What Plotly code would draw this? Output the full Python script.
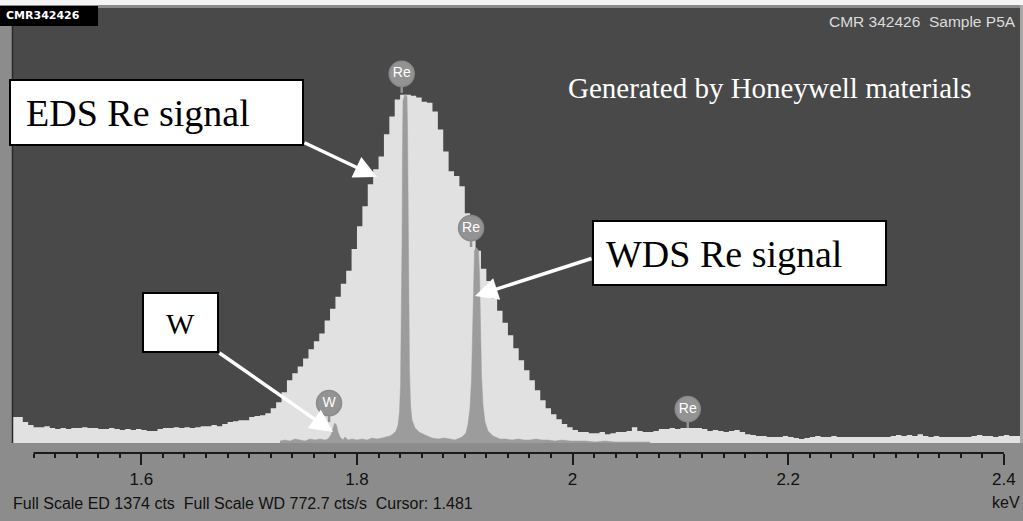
import plotly.graph_objects as go

# ---------------- data ----------------
# EDS spectrum: counts per 5 eV channel, first channel starts at 1.480 keV
eds_start_kev = 1.480
eds_channel_kev = 0.005
eds_counts = [
    82, 82, 66, 57, 50, 50, 53, 47, 44, 47,
    44, 47, 47, 50, 47, 47, 44, 44, 47, 44,
    41, 44, 41, 44, 41, 38, 38, 44, 47, 47,
    50, 47, 50, 47, 50, 53, 53, 57, 53, 60,
    66, 69, 72, 72, 82, 85, 88, 94, 110, 129,
    160, 198, 220, 242, 267, 296, 321, 346, 387, 424,
    462, 503, 544, 613, 685, 748, 817, 865, 905, 975,
    1031, 1085, 1100, 1100, 1097, 1091, 1078, 1075, 1047, 990,
    921, 858, 843, 811, 726, 644, 607, 550, 512, 456,
    418, 380, 340, 299, 261, 230, 198, 167, 135, 110,
    91, 75, 60, 50, 41, 35, 35, 31, 31, 35,
    28, 31, 35, 35, 38, 50, 38, 35, 35, 38,
    44, 44, 47, 44, 47, 47, 47, 47, 44, 38,
    41, 38, 35, 38, 41, 35, 28, 25, 22, 22,
    19, 19, 19, 22, 19, 16, 13, 16, 19, 22,
    19, 19, 22, 19, 19, 19, 19, 19, 19, 19,
    19, 19, 19, 22, 25, 22, 25, 22, 28, 22,
    19, 22, 19, 19, 19, 19, 19, 19, 22, 25,
    22, 22, 19, 22, 25, 22, 22, 22,
]

# WDS scan (keV, counts/s)
wds_energy = [
    1.7286, 1.7332, 1.7379, 1.7425, 1.7471, 1.7518, 1.7564, 1.7611, 1.7657, 1.7703,
    1.7731, 1.7759, 1.7778, 1.7792, 1.7810, 1.7824, 1.7843, 1.7870, 1.7889, 1.7917,
    1.7954, 1.8000, 1.8047, 1.8093, 1.8139, 1.8186, 1.8232, 1.8269, 1.8306, 1.8334,
    1.8362, 1.8381, 1.8394, 1.8404, 1.8413, 1.8418, 1.8422, 1.8427, 1.8446, 1.8464,
    1.8469, 1.8473, 1.8478, 1.8487, 1.8497, 1.8510, 1.8538, 1.8575, 1.8631, 1.8696,
    1.8752, 1.8807, 1.8863, 1.8909, 1.8974, 1.9011, 1.9030, 1.9048, 1.9062, 1.9072,
    1.9081, 1.9090, 1.9109, 1.9127, 1.9137, 1.9146, 1.9155, 1.9169, 1.9188, 1.9215,
    1.9262, 1.9327, 1.9382, 1.9438, 1.9494, 1.9549, 1.9605, 1.9661, 1.9716, 1.9772,
    1.9837, 1.9902, 1.9976, 2.0050, 2.0124, 2.0208, 2.0301, 2.0393, 2.0533, 2.0718,
]
wds_cps = [
    3.5, 5.3, 3.5, 7.1, 5.3, 3.5, 7.1, 5.3, 7.1, 5.3,
    7.1, 14.2, 26.6, 35.4, 31.9, 19.5, 10.6, 5.3, 10.6, 5.3,
    7.1, 5.3, 7.1, 5.3, 8.9, 7.1, 8.9, 10.6, 12.4, 16.0,
    21.3, 31.9, 55.0, 103, 218, 360, 519, 608, 620, 615,
    555, 431, 271, 129, 67, 41, 27, 19.5, 14.2, 8.9,
    7.1, 8.9, 7.1, 5.3, 10.6, 17.7, 33.7, 62, 111.6, 200,
    298, 342, 347, 342, 298, 209, 120.5, 67, 37, 21.3,
    12.4, 7.1, 7.1, 5.3, 7.1, 5.3, 5.3, 7.1, 5.3, 5.3,
    3.5, 5.3, 3.5, 3.5, 3.5, 1.8, 3.5, 1.8, 1.8, 1.8,
]

# peak identification labels (energy keV, label height / stem base in EDS counts)
label_text = ["Re", "Re", "W", "Re"]
label_energy = [1.8415, 1.9058, 1.7741, 2.1068]
label_height = [1166, 679, 126, 107]
label_base = [1106, 619, 66, 47]

eds_full_scale = 1374
wds_full_scale = 772.7

major_ticks = [1.6, 1.8, 2.0, 2.2, 2.4]
major_text = ["1.6", "1.8", "2", "2.2", "2.4"]
minor_ticks = [round(1.50 + 0.02 * k, 2) for k in range(46)]
minor_ticks = [t for t in minor_ticks if t not in major_ticks]
axis_span = [1.5, 2.4]
x_range = [1.48, 2.415]

# ---------------- layout helpers (pixel -> paper) ----------------
W, H = 1023, 521
ML, MR, MT, MB = 12, 3, 8, 68
PW, PH = W - ML - MR, H - MT - MB
SPEC_BOTTOM = 443


def px(x):
    return (x - ML) / PW


def py(y):
    return (H - MB - y) / PH


dom0 = py(SPEC_BOTTOM)

DARK = "#494949"
LIGHT = "#e1e1e1"
WDSC = "#9c9c9c"
PANEL = "#8c8c8c"
SERIF = "Liberation Serif, Times New Roman, serif"
SANS = "Liberation Sans, Arial, sans-serif"

# EDS step outline (channel edges)
eds_x = [round(eds_start_kev + eds_channel_kev * i, 4) for i in range(len(eds_counts) + 1)]
eds_y = eds_counts + [eds_counts[-1]]

fig = go.Figure()
fig.add_trace(go.Scatter(
    x=eds_x, y=eds_y, mode="lines", line=dict(shape="hv", width=0, color=LIGHT),
    fill="tozeroy", fillcolor=LIGHT, hoverinfo="skip", yaxis="y", showlegend=False))
fig.add_trace(go.Scatter(
    x=wds_energy, y=wds_cps, mode="lines", line=dict(width=0.5, color=WDSC),
    fill="tozeroy", fillcolor=WDSC, hoverinfo="skip", yaxis="y2", showlegend=False))
fig.add_trace(go.Scatter(
    x=label_energy, y=label_height, mode="markers+text", text=label_text,
    textposition="middle center", textfont=dict(family=SANS, size=14, color="white"),
    marker=dict(symbol="circle", size=25, color="#939393", line=dict(width=1.5, color="#8a8a8a")),
    error_y=dict(type="data", symmetric=False, array=[0] * len(label_height),
                 arrayminus=[h - b for h, b in zip(label_height, label_base)],
                 thickness=2.5, width=0, color="#939393"),
    hoverinfo="skip", yaxis="y3", showlegend=False))

shapes = [
    dict(type="rect", xref="paper", yref="paper", x0=0, x1=1, y0=dom0, y1=1,
         fillcolor=DARK, line=dict(width=0), layer="below"),
    dict(type="rect", xref="paper", yref="paper", x0=px(0), x1=px(W), y0=py(5), y1=py(-2),
         fillcolor="#f4f4f4", line=dict(width=0), layer="below"),
    dict(type="rect", xref="paper", yref="paper", x0=px(1020), x1=px(1023), y0=py(SPEC_BOTTOM), y1=py(5),
         fillcolor="#a8a8a8", line=dict(width=0), layer="below"),
    dict(type="line", xref="paper", yref="paper", x0=px(12.5), x1=px(12.5), y0=dom0, y1=1,
         line=dict(color="#2a2a2a", width=1.5)),
    dict(type="rect", xref="paper", yref="paper", x0=px(0), x1=px(98), y0=py(26), y1=py(6),
         fillcolor="black", line=dict(width=0)),
    dict(type="line", xref="x", yref="paper", x0=axis_span[0], x1=axis_span[1], y0=0, y1=0,
         line=dict(color="#1a1a1a", width=2)),
    dict(type="rect", xref="paper", yref="paper", x0=px(10), x1=px(303), y0=py(145), y1=py(80),
         fillcolor="white", line=dict(color="black", width=2)),
    dict(type="rect", xref="paper", yref="paper", x0=px(593), x1=px(886), y0=py(285), y1=py(221),
         fillcolor="white", line=dict(color="black", width=2)),
    dict(type="rect", xref="paper", yref="paper", x0=px(143), x1=px(218), y0=py(352), y1=py(293),
         fillcolor="white", line=dict(color="black", width=2)),
]


def txt(s, x, y, size, color, family, xanchor="left"):
    return dict(text=s, xref="paper", yref="paper", x=px(x), y=py(y), xanchor=xanchor,
                yanchor="middle", showarrow=False, font=dict(size=size, color=color, family=family))


def arrow(x_head, y_head, x_tail, y_tail):
    return dict(text="", xref="paper", yref="paper", x=px(x_head), y=py(y_head),
                ax=x_tail - x_head, ay=y_tail - y_head, showarrow=True, arrowhead=2,
                arrowsize=1.3, arrowwidth=3.5, arrowcolor="white")


annotations = [
    txt("<b>CMR342426</b>", 4, 16, 11, "white", "DejaVu Sans, sans-serif"),
    txt("CMR 342426\u00a0 Sample P5A", 1018, 22, 15.5, "#dcdcdc", SANS, "right"),
    txt("Generated by Honeywell materials", 566, 88, 29, "white", SERIF),
    txt("EDS Re signal", 24, 113, 38, "black", SERIF),
    txt("WDS Re signal", 604, 254, 38, "black", SERIF),
    txt("W", 180, 323, 30, "black", SERIF, "center"),
    txt("Full Scale ED 1374 cts\u00a0 Full Scale WD 772.7 cts/s\u00a0 Cursor: 1.481", 11, 504, 16, "#111111", SANS),
    txt("keV", 1006, 502, 16, "#111111", SANS, "center"),
    arrow(377, 177, 303, 142),
    arrow(475, 296, 593, 258),
    arrow(333, 432, 218, 352),
]

fig.update_layout(
    width=W, height=H,
    margin=dict(l=ML, r=MR, t=MT, b=MB, pad=0),
    paper_bgcolor=PANEL, plot_bgcolor=PANEL,
    showlegend=False,
    xaxis=dict(range=x_range, anchor="free", position=0, showgrid=False, zeroline=False,
               showline=False, tickmode="array", tickvals=major_ticks, ticktext=major_text,
               ticks="outside", ticklen=11, tickwidth=2, tickcolor="#1a1a1a",
               tickfont=dict(family=SANS, size=17, color="#111111"),
               minor=dict(tickmode="array", tickvals=minor_ticks, ticks="outside", ticklen=4,
                          tickwidth=1.5, tickcolor="#1a1a1a", showgrid=False),
               fixedrange=True),
    yaxis=dict(domain=[dom0, 1], range=[0, eds_full_scale], visible=False, fixedrange=True),
    yaxis2=dict(overlaying="y", range=[0, wds_full_scale], visible=False, fixedrange=True),
    yaxis3=dict(overlaying="y", range=[0, eds_full_scale], visible=False, fixedrange=True),
    shapes=shapes,
    annotations=annotations,
)

fig.write_html("out.html")
